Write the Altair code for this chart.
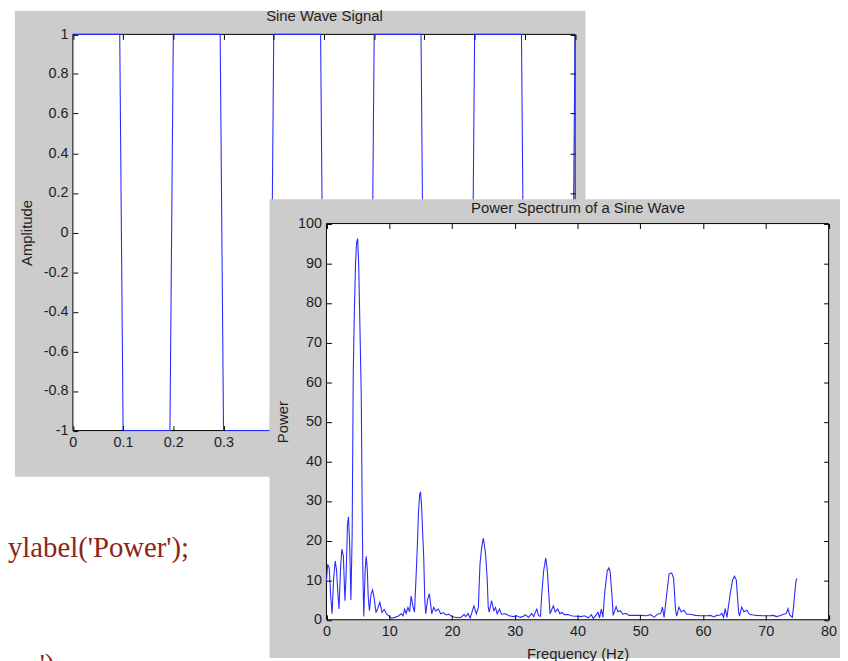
import altair as alt
import pandas as pd

# ---------------- data ----------------
# Figure 1: the (square-looking) sine wave signal, time in s
sig_t = [0.0, 0.0933, 0.1, 0.1933, 0.2, 0.2933, 0.3, 0.3933, 0.4, 0.4933, 0.5,
         0.5933, 0.6, 0.6933, 0.7, 0.7933, 0.8, 0.8933, 0.9, 0.9933, 1.0]
sig_y = [1, 1, -1, -1, 1, 1, -1, -1, 1, 1, -1, -1, 1, 1, -1, -1, 1, 1, -1, -1, 1]

# Figure 2: power spectrum
freq = [0.0, 0.2, 0.45, 0.7, 0.9, 1.15, 1.4, 1.6, 1.85, 2.0, 2.25, 2.45, 2.7, 2.95,
        3.15, 3.35, 3.52, 3.7, 3.9, 4.1, 4.27, 4.45, 4.63, 4.8, 4.97, 5.15, 5.35,
        5.55, 5.68, 5.8, 5.95, 6.15, 6.33, 6.5, 6.65, 6.85, 7.1, 7.35, 7.6, 7.9,
        8.2, 8.5, 8.85, 9.2, 9.6, 10.0, 10.35, 10.9, 11.4, 11.93, 12.2, 12.45,
        12.7, 12.98, 13.25, 13.5, 13.77, 14.03, 14.2, 14.45, 14.67, 14.85, 14.98,
        15.15, 15.3, 15.5, 15.67, 15.82, 16.1, 16.4, 16.6, 16.77, 17.09, 17.4,
        17.82, 18.2, 18.6, 19.1, 19.5, 19.8, 20.3, 20.9, 21.4, 21.93, 22.2, 22.56,
        22.9, 23.2, 23.5, 23.88, 24.2, 24.46, 24.72, 24.99, 25.2, 25.35, 25.6,
        25.78, 25.94, 26.3, 26.67, 26.94, 27.2, 27.57, 27.9, 28.5, 29.1, 29.8,
        30.3, 30.89, 31.4, 31.7, 32.2, 32.7, 33.0, 33.5, 33.8, 34.1, 34.3, 34.6,
        34.94, 35.2, 35.42, 35.62, 36.15, 36.45, 36.83, 37.2, 37.5, 37.9, 38.5,
        39.0, 39.6, 40.1, 40.6, 41.1, 41.7, 42.2, 42.5, 43.0, 43.26, 43.5, 43.79,
        44.05, 44.31, 44.73, 44.99, 45.2, 45.47, 45.68, 46.15, 46.45, 46.84, 47.2,
        47.73, 48.2, 49.0, 50.1, 51.0, 51.7, 52.2, 52.73, 53.26, 53.53, 53.79,
        54.21, 54.58, 55.0, 55.3, 55.63, 55.8, 56.16, 56.5, 56.96, 57.4, 58.0,
        58.8, 59.6, 60.6, 61.2, 61.7, 62.2, 62.7, 63.0, 63.27, 63.53, 63.8, 64.32,
        64.69, 65.0, 65.3, 65.64, 65.8, 66.16, 66.5, 66.96, 67.4, 68.0, 68.5,
        69.5, 70.5, 71.2, 71.7, 72.2, 72.75, 73.27, 73.53, 73.8, 74.22, 74.43,
        74.65, 74.85, 75.0]
power = [9.8, 14.0, 13.0, 5.5, 1.5, 10.5, 14.8, 12.7, 6.0, 2.7, 13.0, 17.8, 16.0, 4.8,
         12.0, 24.0, 26.0, 19.0, 5.0, 22.0, 62.0, 78.0, 89.8, 95.2, 96.2, 89.0, 72.7,
         56.5, 30.0, 12.0, 0.8, 12.0, 16.0, 13.0, 6.0, 2.3, 6.5, 7.5, 5.5, 1.8,
         3.0, 4.4, 1.9, 2.6, 1.4, 0.9, 0.4, 0.6, 0.9, 1.5, 1.0, 2.7,
         1.6, 3.1, 2.0, 6.0, 3.5, 1.9, 8.0, 17.3, 27.3, 31.5, 32.3,
         29.0, 23.1, 15.6, 4.8, 1.5, 5.0, 6.6, 4.0, 1.5, 3.1, 2.2,
         2.7, 1.5, 1.8, 1.2, 1.4, 1.0, 0.7, 0.5, 0.6, 1.3, 0.8, 1.6,
         0.4, 2.0, 3.5, 1.5, 3.1, 14.0, 18.1, 20.6, 18.5, 16.5, 10.6,
         3.1, 1.9, 4.8, 2.3, 3.1, 1.5, 2.7, 1.4, 1.5, 1.0, 0.8,
         1.0, 0.6, 0.9, 1.3, 0.6, 1.6, 0.8, 2.7, 1.0, 0.9, 6.5, 12.3,
         15.6, 12.3, 6.5, 1.5, 3.5, 2.0, 2.7, 1.5, 1.9, 1.3, 1.3,
         1.0, 0.9, 0.9, 0.8, 1.0, 0.5, 1.3, 0.3, 1.3, 1.9, 0.5, 2.7,
         0.6, 6.5, 12.3, 13.1, 12.0, 6.5, 1.1, 3.3, 2.0, 2.3, 1.4,
         1.6, 1.1, 1.1, 1.1, 1.0, 1.3, 0.6, 1.4, 1.6, 3.2, 0.6,
         6.5, 11.6, 11.8, 10.5, 2.3, 0.9, 3.2, 2.0, 2.4, 1.4, 1.4,
         1.1, 1.0, 1.0, 1.1, 0.7, 1.1, 1.2, 1.6, 0.6, 2.8, 0.6, 6.5,
         10.0, 11.0, 10.0, 2.3, 0.9, 3.2, 2.0, 2.4, 1.4, 1.2, 1.1,
         1.0, 1.0, 1.1, 0.8, 1.0, 1.3, 1.6, 2.8, 1.2, 0.6, 3.5,
         7.5, 10.2, 10.4]

# axis ticks / labels
sig_x_ticks = [0, 0.1, 0.2, 0.3, 0.4, 0.5, 0.6, 0.7, 0.8, 0.9, 1]
sig_x_labels = [0, 0.1, 0.2, 0.3]                 # the rest is hidden by the front window
sig_y_ticks = [-1, -0.8, -0.6, -0.4, -0.2, 0, 0.2, 0.4, 0.6, 0.8, 1]
sig_y_right = [0.2, 0.4, 0.6, 0.8, 1]             # the rest is hidden by the front window
psd_x_ticks = [0, 10, 20, 30, 40, 50, 60, 70, 80]
psd_y_ticks = [0, 10, 20, 30, 40, 50, 60, 70, 80, 90, 100]

titles = ["Sine Wave Signal", "Amplitude", "Power Spectrum of a Sine Wave", "Power", "Frequency (Hz)"]
code_lines = ["ylabel('Power');", "')"]

# ---------------- layout (pixels) ----------------
W, H = 840, 653
X1, Y1 = [65.5, 572.5], [423.5, 23.5]      # plot area of back window
X2, Y2 = [321.5, 828.5], [614.5, 214.5]    # plot area of front window
TL = 5
GRAY = "#cccccc"
BLUE = "#2b2bff"
FONT = "Liberation Sans"
TXT = "#1e1e1e"

sig_df = pd.DataFrame({"t": sig_t, "a": sig_y})
psd_df = pd.DataFrame({"f": freq, "p": power})
frame1 = pd.DataFrame({"x0": [0], "x1": [1], "y0": [-1], "y1": [1]})
frame2 = pd.DataFrame({"x0": [0], "x1": [80], "y0": [0], "y1": [100]})
one = pd.DataFrame({"k": [0]})

def sc(dom, rng):
    return alt.Scale(domain=dom, range=rng, nice=False, zero=False)

common = dict(domain=False, grid=False, tickColor="black", tickSize=TL, tickWidth=1,
              labelFont=FONT, labelFontSize=14.5, labelColor=TXT,
              labelFlush=False, labelOverlap=False, labelExpr="'' + datum.value",
              titleFont=FONT, titleFontSize=15, titleFontWeight="normal",
              titleColor=TXT, zindex=1)

def bottom(vals, yb, title, pad=5, tpad=4):
    kw = dict(common)
    if title:
        kw.update(title=title, titlePadding=tpad)
    else:
        kw.update(title=None)
    return alt.Axis(orient="bottom", values=vals, offset=(yb - TL) - H, labelPadding=pad, **kw)

def top(vals, yt, title, tpad=10.5):
    kw = dict(common)
    kw.update(title=title, titlePadding=tpad, titleBaseline="alphabetic")
    return alt.Axis(orient="top", values=vals, labels=False, offset=-(yt + TL), **kw)

def left(vals, xl, title, tpad=6):
    kw = dict(common)
    kw.update(title=title, titlePadding=tpad)
    return alt.Axis(orient="left", values=vals, offset=-(xl + TL), labelPadding=5, **kw)

def right(vals, xr):
    kw = dict(common)
    kw.update(title=None)
    return alt.Axis(orient="right", values=vals, labels=False, offset=(xr - TL) - W, **kw)

# ---------------- back window ----------------
bg1 = alt.Chart(one).mark_rect(color=GRAY).encode(
    x=alt.value(7), x2=alt.value(583), y=alt.value(0), y2=alt.value(470))

box1 = alt.Chart(frame1).mark_rect(fill="white", stroke="black", strokeWidth=1).encode(
    x=alt.X("x0:Q", scale=sc([0, 1], X1), axis=bottom(sig_x_labels, Y1[0], None)),
    x2="x1:Q",
    y=alt.Y("y0:Q", scale=sc([-1, 1], Y1), axis=left(sig_y_ticks, X1[0], titles[1], 9)),
    y2="y1:Q")

line1 = alt.Chart(sig_df).mark_line(color=BLUE, strokeWidth=1.1).encode(
    x=alt.X("t:Q", scale=sc([0, 1], X1), axis=top(sig_x_ticks, Y1[1], titles[0], 14)),
    y=alt.Y("a:Q", scale=sc([-1, 1], Y1), axis=right(sig_y_right, X1[1])))

# ---------------- page text ----------------
txt1 = alt.Chart(one).mark_text(align="left", baseline="alphabetic", font="Liberation Serif",
                                fontSize=29, color="#8c2618").encode(
    x=alt.value(0), y=alt.value(551), text=alt.value(code_lines[0]))
txt2 = alt.Chart(one).mark_text(align="left", baseline="alphabetic", font="Liberation Serif",
                                fontSize=29, color="#8c2618").encode(
    x=alt.value(32), y=alt.value(669), text=alt.value(code_lines[1]))

# ---------------- front window ----------------
bg2 = alt.Chart(one).mark_rect(color=GRAY).encode(
    x=alt.value(264), x2=alt.value(W), y=alt.value(190), y2=alt.value(H))

box2 = alt.Chart(frame2).mark_rect(fill="white", stroke="black", strokeWidth=1).encode(
    x=alt.X("x0:Q", scale=sc([0, 80], X2), axis=bottom(psd_x_ticks, Y2[0], titles[4], 5, 9)),
    x2="x1:Q",
    y=alt.Y("y0:Q", scale=sc([0, 100], Y2), axis=left(psd_y_ticks, X2[0], titles[3], 7)),
    y2="y1:Q")

line2 = alt.Chart(psd_df).mark_line(color=BLUE, strokeWidth=1.1).encode(
    x=alt.X("f:Q", scale=sc([0, 80], X2), axis=top(psd_x_ticks, Y2[1], titles[2])),
    y=alt.Y("p:Q", scale=sc([0, 100], Y2), axis=right(psd_y_ticks, X2[1])))

chart = alt.layer(bg1, box1, line1, txt1, txt2, bg2, box2, line2).resolve_scale(
    x="independent", y="independent").resolve_axis(
    x="independent", y="independent").properties(
    width=W, height=H, padding=0,
    autosize=alt.AutoSizeParams(type="none"),
    background="white").configure_view(stroke="transparent")

chart.save("out.html", embed_options={"renderer": "svg", "actions": False})
